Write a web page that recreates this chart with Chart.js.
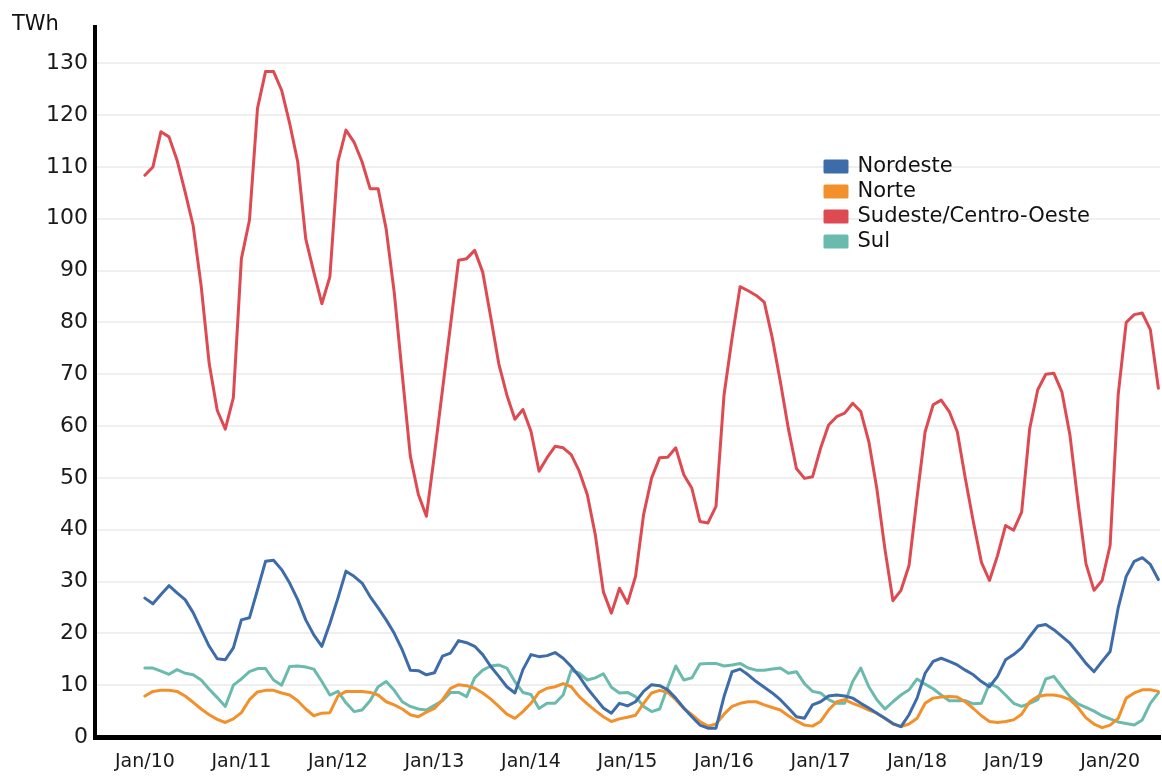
<!DOCTYPE html>
<html>
<head>
<meta charset="utf-8">
<script src="https://cdn.jsdelivr.net/npm/chart.js@4.4.1/dist/chart.umd.min.js"></script>
<style>
  html, body { margin: 0; padding: 0; background: #fff; }
  #wrap { width: 1162px; height: 777px; position: relative; }
</style>
</head>
<body>
<div id="wrap"><canvas id="myChart"></canvas></div>
<script>
// monthly values, Jan/10 .. Jul/20 (TWh)
var unit = 'TWh';
var tickLabels = ['Jan/10', 'Jan/11', 'Jan/12', 'Jan/13', 'Jan/14', 'Jan/15',
                  'Jan/16', 'Jan/17', 'Jan/18', 'Jan/19', 'Jan/20'];
var seriesNames = ['Nordeste', 'Norte', 'Sudeste/Centro-Oeste', 'Sul'];

var nordeste = [
  26.8, 25.7, 27.5, 29.2, 27.8, 26.5, 24.0, 20.7, 17.5, 15.1, 14.9, 17.2,
  22.6, 23.0, 28.4, 33.9, 34.1, 32.3, 29.7, 26.5, 22.6, 19.7, 17.5, 21.9,
  26.8, 32.0, 31.0, 29.7, 27.1, 24.9, 22.6, 20.0, 16.8, 12.9, 12.8, 12.0,
  12.4, 15.6, 16.2, 18.6, 18.2, 17.5, 15.9, 13.6, 11.7, 9.7, 8.5, 13.0,
  15.9, 15.5, 15.7, 16.3, 15.2, 13.6, 11.7, 9.4, 7.5, 5.6, 4.6, 6.5,
  6.0, 6.8, 8.8, 10.1, 9.9, 9.1, 7.5, 5.6, 3.9, 2.3, 1.7, 1.7,
  7.8, 12.6, 13.1, 12.0, 10.7, 9.6, 8.5, 7.2, 5.6, 3.9, 3.6, 6.2,
  6.8, 7.9, 8.1, 7.9, 7.5, 6.5, 5.6, 4.6, 3.6, 2.6, 2.0, 4.3,
  7.5, 12.3, 14.6, 15.2, 14.6, 13.9, 12.9, 12.0, 10.7, 9.7, 11.7, 14.9,
  15.9, 17.2, 19.4, 21.4, 21.7, 20.7, 19.4, 18.1, 16.2, 14.2, 12.6, 14.6,
  16.5, 24.9, 31.0, 33.9, 34.6, 33.3, 30.4
];
var norte = [
  7.9, 8.8, 9.0, 9.0, 8.8, 7.9, 6.7, 5.4, 4.3, 3.4, 2.8, 3.5,
  4.7, 7.2, 8.7, 9.0, 9.0, 8.5, 8.1, 7.0, 5.4, 4.1, 4.6, 4.7,
  7.9, 8.8, 8.8, 8.8, 8.6, 8.1, 6.8, 6.2, 5.4, 4.3, 3.9, 4.8,
  5.5, 7.2, 9.4, 10.1, 9.9, 9.4, 8.5, 7.3, 5.9, 4.4, 3.6, 4.9,
  6.5, 8.6, 9.4, 9.7, 10.3, 9.7, 7.8, 6.4, 5.1, 3.9, 3.0, 3.5,
  3.8, 4.2, 6.5, 8.5, 9.0, 8.6, 7.2, 5.5, 4.3, 3.0, 2.1, 2.5,
  4.4, 5.9, 6.5, 6.8, 6.8, 6.2, 5.7, 5.2, 4.1, 3.1, 2.3, 2.1,
  3.0, 5.2, 6.8, 7.2, 6.5, 5.9, 5.2, 4.6, 3.6, 2.5, 2.0, 2.5,
  3.6, 6.5, 7.5, 7.7, 7.8, 7.7, 6.8, 5.5, 4.1, 3.0, 2.8, 3.0,
  3.3, 4.4, 6.8, 7.8, 8.1, 8.1, 7.8, 7.2, 5.7, 3.7, 2.5, 1.8,
  2.3, 3.6, 7.5, 8.5, 9.1, 9.1, 8.8
];
var sudeste = [
  108.4, 110.0, 116.8, 115.8, 111.3, 105.2, 98.7, 87.0, 72.0, 63.0, 59.4, 65.5,
  92.3, 99.7, 121.3, 128.4, 128.4, 124.8, 118.4, 111.0, 96.1, 89.7, 83.6, 88.8,
  111.0, 117.1, 114.8, 111.0, 105.8, 105.8, 98.0, 85.8, 69.9, 54.2, 46.8, 42.6,
  54.5, 67.0, 79.5, 92.0, 92.3, 93.9, 89.7, 81.0, 72.0, 66.0, 61.3, 63.2,
  59.0, 51.3, 53.9, 56.1, 55.8, 54.5, 51.3, 46.8, 39.0, 28.0, 23.9, 28.7,
  25.8, 31.0, 42.9, 50.0, 53.9, 54.0, 55.8, 50.6, 48.0, 41.6, 41.3, 44.5,
  66.0, 77.0, 86.9, 86.1, 85.2, 83.9, 77.0, 68.6, 59.5, 51.8, 49.9, 50.2,
  55.7, 60.2, 61.8, 62.5, 64.4, 62.8, 57.0, 47.9, 36.3, 26.3, 28.3, 33.1,
  46.3, 58.9, 64.1, 65.0, 62.8, 58.9, 49.9, 41.5, 33.7, 30.2, 35.0, 40.8,
  39.9, 43.4, 59.5, 67.0, 70.0, 70.2, 66.6, 58.3, 45.4, 33.4, 28.3, 30.2,
  37.0, 66.0, 80.0, 81.5, 81.8, 78.6, 67.3
];
var sul = [
  13.3, 13.3, 12.7, 12.1, 13.0, 12.3, 12.0, 11.0, 9.2, 7.6, 5.9, 10.0,
  11.2, 12.6, 13.2, 13.2, 11.0, 10.0, 13.6, 13.7, 13.5, 13.1, 10.7, 8.1,
  8.8, 6.6, 4.9, 5.2, 7.0, 9.7, 10.7, 9.0, 6.8, 5.9, 5.4, 5.2,
  6.1, 7.0, 8.6, 8.6, 7.8, 11.4, 12.9, 13.7, 13.9, 13.3, 10.7, 8.6,
  8.2, 5.5, 6.5, 6.5, 8.1, 12.9, 12.3, 11.0, 11.4, 12.2, 9.6, 8.5,
  8.6, 7.8, 5.9, 4.9, 5.4, 9.7, 13.7, 11.0, 11.4, 14.1, 14.2, 14.2,
  13.7, 13.9, 14.2, 13.3, 12.9, 12.9, 13.1, 13.3, 12.3, 12.6, 10.3, 8.8,
  8.5, 7.2, 6.5, 6.5, 10.7, 13.3, 9.7, 7.2, 5.4, 6.8, 8.1, 9.1,
  11.2, 10.2, 9.3, 8.1, 7.0, 7.0, 7.0, 6.4, 6.5, 10.3, 9.6, 8.1,
  6.5, 5.9, 6.5, 7.2, 11.2, 11.7, 9.7, 7.8, 6.4, 5.7, 5.0, 4.1,
  3.5, 2.9, 2.6, 2.3, 3.3, 6.5, 8.5
];

var colors = ['#3d6ca9', '#f2912c', '#de4a52', '#6bbaae'];
var series = [nordeste, norte, sudeste, sul];

function toPoints(values) {
    return values.map(function(v, i) { return {x: i, y: v}; });
}

var datasets = series.map(function(values, k) {
    return {
        label: seriesNames[k],
        data: toPoints(values),
        borderColor: colors[k],
        backgroundColor: colors[k],
        borderWidth: 3,
        pointRadius: 0,
        pointHoverRadius: 0,
        tension: 0,
        fill: false,
        borderJoinStyle: 'round',
        borderCapStyle: 'round'
    };
});

// put the legend inside the plot, top right
var placeLegend = {
    id: 'placeLegend',
    afterLayout: function(chart) {
        var lg = chart.legend;
        lg.left = 821;
        lg.top = 152;
        lg.right = lg.left + lg.width;
        lg.bottom = lg.top + 110;
        lg.height = 110;
    }
};

// unit label above the y axis
var unitLabel = {
    id: 'unitLabel',
    afterDraw: function(chart) {
        var ctx = chart.ctx;
        ctx.save();
        ctx.font = '21px "DejaVu Sans"';
        ctx.fillStyle = '#111';
        ctx.textAlign = 'left';
        ctx.textBaseline = 'middle';
        ctx.fillText(unit, 12, 25);
        ctx.restore();
    }
};

Chart.defaults.font.family = '"DejaVu Sans", sans-serif';
Chart.defaults.color = '#1a1a1a';

var ctx = document.getElementById('myChart').getContext('2d');
var myChart = new Chart(ctx, {
    type: 'line',
    data: { datasets: datasets },
    plugins: [placeLegend, unitLabel],
    options: {
        responsive: true,
        maintainAspectRatio: false,
        animation: false,
        layout: { padding: { top: 27, right: 2, left: 0, bottom: 0 } },
        plugins: {
            legend: {
                position: 'chartArea',
                align: 'start',
                labels: {
                    boxWidth: 22,
                    boxHeight: 11,
                    padding: 4,
                    color: '#111',
                    font: { size: 21 }
                }
            },
            tooltip: { enabled: false }
        },
        scales: {
            x: {
                type: 'linear',
                min: -6.2,
                max: 126.2,
                grid: { display: false, drawTicks: false },
                border: { display: true, color: '#000', width: 5 },
                afterBuildTicks: function(scale) {
                    scale.ticks = tickLabels.map(function(t, k) { return {value: k * 12}; });
                },
                afterFit: function(scale) { scale.height = 40; },
                ticks: {
                    autoSkip: false,
                    maxRotation: 0,
                    padding: 14,
                    color: '#1a1a1a',
                    font: { size: 19 },
                    callback: function(value) { return tickLabels[Math.round(value / 12)]; }
                }
            },
            y: {
                min: 0,
                max: 137,
                grid: { color: '#efefef', lineWidth: 2, drawTicks: false },
                border: { display: true, color: '#000', width: 4 },
                afterBuildTicks: function(scale) {
                    scale.ticks = scale.ticks.filter(function(t) { return t.value % 10 === 0 && t.value <= 130; });
                },
                afterFit: function(scale) { scale.width = 95; },
                ticks: {
                    stepSize: 10,
                    padding: 7,
                    color: '#1a1a1a',
                    font: { size: 22 }
                }
            }
        }
    }
});
</script>
</body>
</html>
